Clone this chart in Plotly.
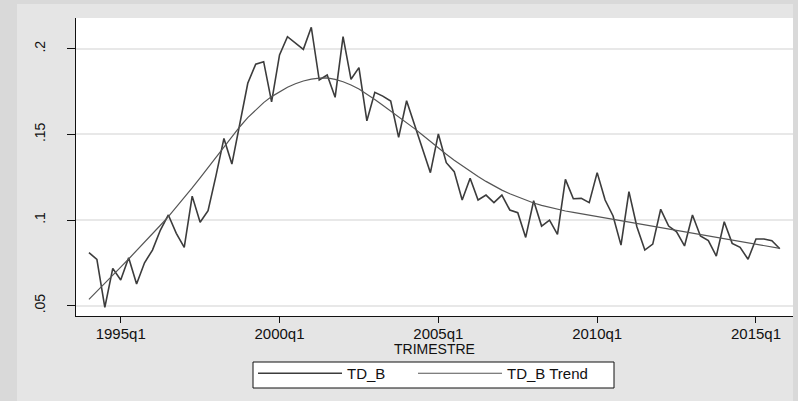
import plotly.graph_objects as go

# Quarterly periods 1994q1 .. 2015q4
years = list(range(1994, 2016))
quarters = [f"{y}q{q}" for y in years for q in (1, 2, 3, 4)]

# Observed series TD_B
td_b = [
    0.0810, 0.0771, 0.0490, 0.0718, 0.0650, 0.0780, 0.0627, 0.0751,
    0.0825, 0.0942, 0.1030, 0.0923, 0.0841, 0.1140, 0.0987, 0.1055,
    0.1260, 0.1477, 0.1327, 0.1565, 0.1799, 0.1910, 0.1925, 0.1690,
    0.1964, 0.2071, 0.2036, 0.1997, 0.2126, 0.1818, 0.1847, 0.1717,
    0.2071, 0.1822, 0.1890, 0.1580, 0.1746, 0.1724, 0.1695, 0.1483,
    0.1697, 0.1555, 0.1413, 0.1277, 0.1503, 0.1335, 0.1283, 0.1117,
    0.1244, 0.1117, 0.1146, 0.1102, 0.1146, 0.1059, 0.1043, 0.0899,
    0.1113, 0.0965, 0.1000, 0.0917, 0.1238, 0.1125, 0.1127, 0.1102,
    0.1277, 0.1117, 0.1024, 0.0854, 0.1166, 0.0961, 0.0825, 0.0860,
    0.1063, 0.0965, 0.0932, 0.0849, 0.1030, 0.0907, 0.0880, 0.0790,
    0.0990, 0.0864, 0.0841, 0.0771, 0.0890, 0.0890, 0.0880, 0.0833,
]

# Smoothed trend of TD_B
td_b_trend = [
    0.0537, 0.0583, 0.0630, 0.0677, 0.0725, 0.0773, 0.0821, 0.0870,
    0.0920, 0.0970, 0.1020, 0.1074, 0.1130, 0.1188, 0.1247, 0.1307,
    0.1367, 0.1428, 0.1488, 0.1545, 0.1598, 0.1645, 0.1686, 0.1721,
    0.1751, 0.1776, 0.1796, 0.1812, 0.1823, 0.1829, 0.1830, 0.1822,
    0.1808, 0.1789, 0.1765, 0.1736, 0.1704, 0.1670, 0.1637, 0.1603,
    0.1570, 0.1534, 0.1497, 0.1459, 0.1420, 0.1384, 0.1350, 0.1317,
    0.1284, 0.1254, 0.1226, 0.1199, 0.1175, 0.1154, 0.1135, 0.1116,
    0.1100, 0.1086, 0.1074, 0.1063, 0.1053, 0.1045, 0.1037, 0.1029,
    0.1021, 0.1013, 0.1005, 0.0997, 0.0989, 0.0980, 0.0972, 0.0964,
    0.0956, 0.0948, 0.0940, 0.0932, 0.0924, 0.0916, 0.0908, 0.0899,
    0.0891, 0.0883, 0.0875, 0.0867, 0.0859, 0.0851, 0.0843, 0.0835,
]

x_ticks = ["1995q1", "2000q1", "2005q1", "2010q1", "2015q1"]
y_ticks = [0.05, 0.10, 0.15, 0.20]
y_tick_text = [".05", ".1", ".15", ".2"]

FONT = "Liberation Sans, Arial, sans-serif"
W, H = 798, 401
ML, MR, MT, MB = 76, 5, 18, 85
PW, PH = W - ML - MR, H - MT - MB


def px_x(px):
    return (px - ML) / PW


def px_y(py):
    return (H - MB - py) / PH


fig = go.Figure()
fig.add_trace(go.Scatter(
    x=quarters, y=td_b, mode="lines", name="TD_B",
    line=dict(color="#3c3c3c", width=1.6), legend="legend",
))
fig.add_trace(go.Scatter(
    x=quarters, y=td_b_trend, mode="lines", name="TD_B Trend",
    line=dict(color="#555555", width=1.2), legend="legend2",
))

# darker outer frame strips (left, top, right)
frame = "#d9d9d9"
for x0, x1, y0, y1 in [(0, 17, 0, H), (0, W, 0, 4), (793, W, 0, H)]:
    fig.add_shape(type="rect", xref="paper", yref="paper",
                  x0=px_x(x0), x1=px_x(x1), y0=px_y(y1), y1=px_y(y0),
                  fillcolor=frame, line=dict(width=0), layer="below")

# shared frame around both legend entries
fig.add_shape(type="rect", xref="paper", yref="paper",
              x0=px_x(253), x1=px_x(614), y0=px_y(388), y1=px_y(362),
              fillcolor="#ffffff", line=dict(color="#111111", width=1),
              layer="below")

fig.add_annotation(
    text="TRIMESTRE", xref="paper", yref="paper",
    x=0.5, y=px_y(349), xanchor="center", yanchor="middle",
    showarrow=False, font=dict(family=FONT, size=14, color="#111111"),
)

legend_style = dict(
    orientation="h", xanchor="left", y=px_y(357), yanchor="top",
    bgcolor="rgba(0,0,0,0)", borderwidth=0,
    font=dict(family=FONT, size=15, color="#111111"),
    itemwidth=84,
)

fig.update_layout(
    width=W, height=H,
    margin=dict(l=ML, r=MR, t=MT, b=MB, pad=0),
    paper_bgcolor="#e5e5e5",
    plot_bgcolor="#ffffff",
    font=dict(family=FONT, color="#111111"),
    showlegend=True,
    legend=dict(x=px_x(253), **legend_style),
    legend2=dict(x=px_x(413), **legend_style),
    xaxis=dict(
        type="category", range=[-1.63, 88.66],
        tickmode="array", tickvals=x_ticks, ticktext=x_ticks,
        showgrid=False, zeroline=False,
        showline=True, linecolor="#111111", linewidth=1,
        ticks="outside", ticklen=6, tickcolor="#111111", tickwidth=1,
        tickfont=dict(family=FONT, size=15, color="#111111"),
        ticklabelstandoff=-2,
    ),
    yaxis=dict(
        range=[0.044, 0.218],
        tickmode="array", tickvals=y_ticks, ticktext=y_tick_text,
        tickangle=-90,
        showgrid=True, gridcolor="#e8e8e8", gridwidth=1.5,
        zeroline=False,
        showline=True, linecolor="#111111", linewidth=1,
        ticks="outside", ticklen=8, tickcolor="#111111", tickwidth=1,
        tickfont=dict(family=FONT, size=14, color="#111111"),
        ticklabelstandoff=16,
    ),
)

fig.write_html("out.html")
